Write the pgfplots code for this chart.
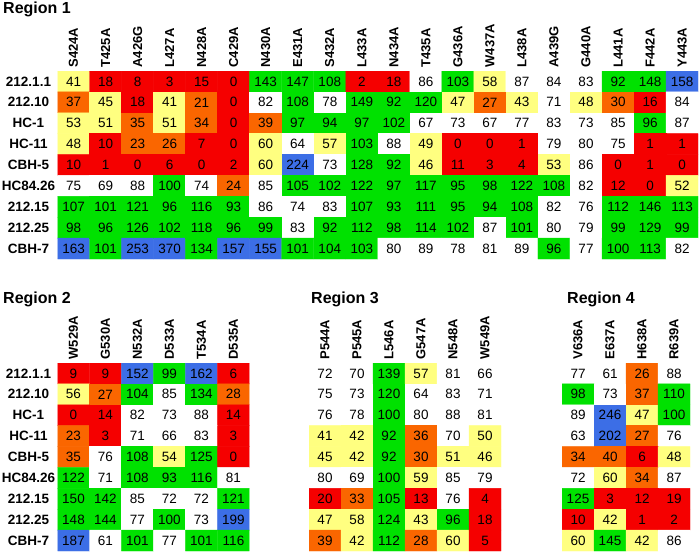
\documentclass[border=0pt]{standalone}
\usepackage{pgfplots}
\usepackage{pgfplotstable}
\pgfplotsset{compat=1.18}
\usepackage{fontspec}
\setmainfont{Liberation Sans}

% Region 1 (9 rows x 20 columns, row-major)
\pgfplotstableread[row sep=\\]{
v\\
41\\ 18\\ 8\\ 3\\ 15\\ 0\\ 143\\ 147\\ 108\\ 2\\ 18\\ 86\\ 103\\ 58\\ 87\\ 84\\ 83\\ 92\\ 148\\ 158\\
37\\ 45\\ 18\\ 41\\ 21\\ 0\\ 82\\ 108\\ 78\\ 149\\ 92\\ 120\\ 47\\ 27\\ 43\\ 71\\ 48\\ 30\\ 16\\ 84\\
53\\ 51\\ 35\\ 51\\ 34\\ 0\\ 39\\ 97\\ 94\\ 97\\ 102\\ 67\\ 73\\ 67\\ 77\\ 83\\ 73\\ 85\\ 96\\ 87\\
48\\ 10\\ 23\\ 26\\ 7\\ 0\\ 60\\ 64\\ 57\\ 103\\ 88\\ 49\\ 0\\ 0\\ 1\\ 79\\ 80\\ 75\\ 1\\ 1\\
10\\ 1\\ 0\\ 6\\ 0\\ 2\\ 60\\ 224\\ 73\\ 128\\ 92\\ 46\\ 11\\ 3\\ 4\\ 53\\ 86\\ 0\\ 1\\ 0\\
75\\ 69\\ 88\\ 100\\ 74\\ 24\\ 85\\ 105\\ 102\\ 122\\ 97\\ 117\\ 95\\ 98\\ 122\\ 108\\ 82\\ 12\\ 0\\ 52\\
107\\ 101\\ 121\\ 96\\ 116\\ 93\\ 86\\ 74\\ 83\\ 107\\ 93\\ 111\\ 95\\ 94\\ 108\\ 82\\ 76\\ 112\\ 146\\ 113\\
98\\ 96\\ 126\\ 102\\ 118\\ 96\\ 99\\ 83\\ 92\\ 112\\ 98\\ 114\\ 102\\ 87\\ 101\\ 80\\ 79\\ 99\\ 129\\ 99\\
163\\ 101\\ 253\\ 370\\ 134\\ 157\\ 155\\ 101\\ 104\\ 103\\ 80\\ 89\\ 78\\ 81\\ 89\\ 96\\ 77\\ 100\\ 113\\ 82\\
}\regA

% Region 2 (9 x 6)
\pgfplotstableread[row sep=\\]{
v\\
9\\ 9\\ 152\\ 99\\ 162\\ 6\\
56\\ 27\\ 104\\ 85\\ 134\\ 28\\
0\\ 14\\ 82\\ 73\\ 88\\ 14\\
23\\ 3\\ 71\\ 66\\ 83\\ 3\\
35\\ 76\\ 108\\ 54\\ 125\\ 0\\
122\\ 71\\ 108\\ 93\\ 116\\ 81\\
150\\ 142\\ 85\\ 72\\ 72\\ 121\\
148\\ 144\\ 77\\ 100\\ 73\\ 199\\
187\\ 61\\ 101\\ 77\\ 101\\ 116\\
}\regB

% Region 3 (9 x 6)
\pgfplotstableread[row sep=\\]{
v\\
72\\ 70\\ 139\\ 57\\ 81\\ 66\\
75\\ 73\\ 120\\ 64\\ 83\\ 71\\
76\\ 78\\ 100\\ 80\\ 88\\ 81\\
41\\ 42\\ 92\\ 36\\ 70\\ 50\\
45\\ 42\\ 92\\ 30\\ 51\\ 46\\
80\\ 69\\ 100\\ 59\\ 85\\ 79\\
20\\ 33\\ 105\\ 13\\ 76\\ 4\\
47\\ 58\\ 124\\ 43\\ 96\\ 18\\
39\\ 42\\ 112\\ 28\\ 60\\ 5\\
}\regC

% Region 4 (9 x 4)
\pgfplotstableread[row sep=\\]{
v\\
77\\ 61\\ 26\\ 88\\
98\\ 73\\ 37\\ 110\\
89\\ 246\\ 47\\ 100\\
63\\ 202\\ 27\\ 76\\
34\\ 40\\ 6\\ 48\\
72\\ 60\\ 34\\ 87\\
125\\ 3\\ 12\\ 19\\
10\\ 42\\ 1\\ 2\\
60\\ 145\\ 42\\ 86\\
}\regD

\pgfplotsset{
  heat/.style={
    scale only axis, height=188pt, anchor=north west,
    enlargelimits=false, y dir=reverse, ymin=-0.5, ymax=8.5,
    axis line style={draw=none}, tick style={draw=none}, major tick length=0pt,
    xticklabel pos=right,
    xticklabel style={rotate=90, anchor=west, font=\bfseries\fontsize{13}{15}\selectfont},
    yticklabel style={anchor=center, xshift=-29pt, font=\bfseries\fontsize{13.5}{16}\selectfont},
    colormap={cat}{rgb255=(245,0,0) rgb255=(250,102,0) rgb255=(255,255,128) rgb255=(255,255,255) rgb255=(0,225,0) rgb255=(60,110,230)},
    colormap access=direct,
    ytick={0,...,8},
  },
  rowlabels/.style={yticklabels={212.1.1,212.10,HC-1,HC-11,CBH-5,HC84.26,212.15,212.25,CBH-7}},
}

% cell position from the running index: row = floor((i+0.5)/n), column = i - n*row
\newcommand{\heatplot}[2]{%
  \addplot[matrix plot*, mesh/cols=#2, point meta=explicit]
    table[x index=0, y index=0,
          x expr={\coordindex-#2*floor((\coordindex+0.5)/#2)},
          y expr={floor((\coordindex+0.5)/#2)},
          meta expr={ifthenelse(\thisrow{v}<20.5,0,ifthenelse(\thisrow{v}<40.5,1,ifthenelse(\thisrow{v}<60.5,2,ifthenelse(\thisrow{v}<90.5,3,ifthenelse(\thisrow{v}<150.5,4,5)))))}] {#1};
  \addplot[only marks, mark=*, mark size=0pt, mark options={draw=none, fill=none},
    nodes near coords, point meta=explicit symbolic,
    every node near coord/.append style={anchor=center, text=black, font=\fontsize{13.5}{16}\selectfont}]
    table[x index=0, y index=0,
          x expr={\coordindex-#2*floor((\coordindex+0.5)/#2)},
          y expr={floor((\coordindex+0.5)/#2)}, meta=v] {#1};
}

\begin{document}
\begin{tikzpicture}
\useasboundingbox (0pt,0pt) rectangle (700pt,-552pt);

\node[anchor=base west, inner sep=0pt, font=\bfseries\fontsize{16}{19}\selectfont] at (3pt,-13pt) {Region 1};
\node[anchor=base west, inner sep=0pt, font=\bfseries\fontsize{16}{19}\selectfont] at (3pt,-303pt) {Region 2};
\node[anchor=base west, inner sep=0pt, font=\bfseries\fontsize{16}{19}\selectfont] at (311pt,-303pt) {Region 3};
\node[anchor=base west, inner sep=0pt, font=\bfseries\fontsize{16}{19}\selectfont] at (567pt,-303pt) {Region 4};

\begin{axis}[heat, at={(57.5pt,-71pt)}, width=640.6pt, xmin=-0.5, xmax=19.5,
  xtick={0,...,19},
  xticklabels={S424A,T425A,A426G,L427A,N428A,C429A,N430A,E431A,S432A,L433A,N434A,T435A,G436A,W437A,L438A,A439G,G440A,L441A,F442A,Y443A},
  rowlabels]
\heatplot{\regA}{20}
\end{axis}

\begin{axis}[heat, at={(57.5pt,-363pt)}, width=192pt, xmin=-0.5, xmax=5.5,
  xtick={0,...,5}, xticklabels={W529A,G530A,N532A,D533A,T534A,D535A}, rowlabels]
\heatplot{\regB}{6}
\end{axis}

\begin{axis}[heat, at={(309pt,-363pt)}, width=192pt, xmin=-0.5, xmax=5.5,
  xtick={0,...,5}, xticklabels={P544A,P545A,L546A,G547A,N548A,W549A}, ytick=\empty]
\heatplot{\regC}{6}
\end{axis}

\begin{axis}[heat, at={(562pt,-363pt)}, width=128pt, xmin=-0.5, xmax=3.5,
  xtick={0,...,3}, xticklabels={V636A,E637A,H638A,R639A}, ytick=\empty]
\heatplot{\regD}{4}
\end{axis}
\end{tikzpicture}
\end{document}
